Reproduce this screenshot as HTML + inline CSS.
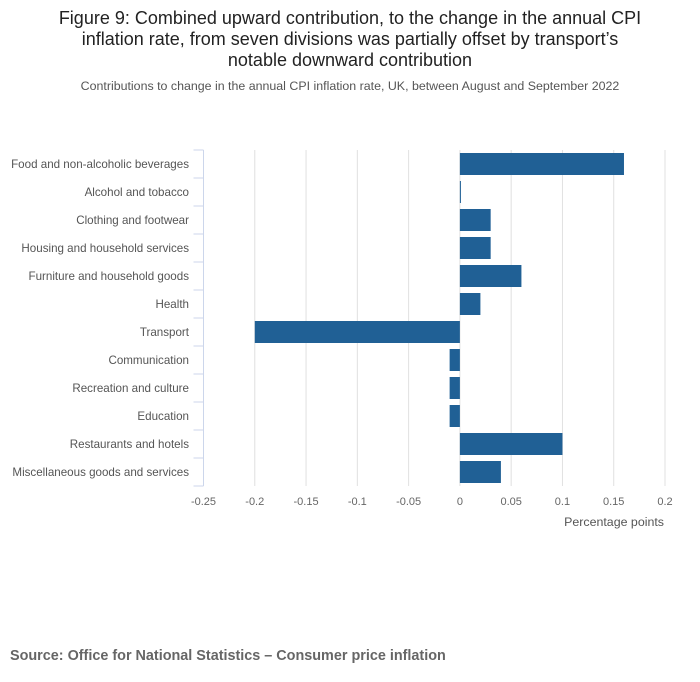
<!DOCTYPE html>
<html><head><meta charset="utf-8"><style>
body{margin:0;background:#fff;font-family:"Liberation Sans",sans-serif;}
#wrap{position:relative;width:700px;height:682px;overflow:hidden;}
</style></head><body>
<div id="wrap">
<svg id="chart" width="700" height="682" xmlns="http://www.w3.org/2000/svg">
<text x="350" y="24" text-anchor="middle" font-size="18" fill="#222">Figure 9: Combined upward contribution, to the change in the annual CPI</text>
<text x="350" y="45" text-anchor="middle" font-size="18" fill="#222">inflation rate, from seven divisions was partially offset by transport’s</text>
<text x="350" y="66" text-anchor="middle" font-size="18" fill="#222">notable downward contribution</text>
<text x="350" y="90" text-anchor="middle" font-size="12.4" fill="#555">Contributions to change in the annual CPI inflation rate, UK, between August and September 2022</text>
<text x="10" y="660" font-size="14.4" font-weight="bold" fill="#666">Source: Office for National Statistics – Consumer price inflation</text>
<g id="grid"></g><g id="bars"></g><g id="axes"></g>
</svg>
</div>
<script>
const categories=["Food and non-alcoholic beverages","Alcohol and tobacco","Clothing and footwear","Housing and household services","Furniture and household goods","Health","Transport","Communication","Recreation and culture","Education","Restaurants and hotels","Miscellaneous goods and services"];
const values=[0.16,0.001,0.03,0.03,0.06,0.02,-0.2,-0.01,-0.01,-0.01,0.1,0.04];
const ticks=[-0.25,-0.2,-0.15,-0.1,-0.05,0,0.05,0.1,0.15,0.2];
const tickLabels=["-0.25","-0.2","-0.15","-0.1","-0.05","0","0.05","0.1","0.15","0.2"];
const NS="http://www.w3.org/2000/svg";
const x0=203.5,x1=665,y0=150,y1=486,xmin=-0.25,xmax=0.2;
const xs=v=>x0+(v-xmin)/(xmax-xmin)*(x1-x0);
const band=(y1-y0)/categories.length;
const ys=i=>y0+i*band;
function mk(t,a,p){const e=document.createElementNS(NS,t);for(const k in a)e.setAttribute(k,a[k]);document.getElementById(p).appendChild(e);return e;}
ticks.forEach((t,i)=>{
 if(i>0){const g=mk('line',{x1:xs(t),x2:xs(t),y1:y0,y2:y1,stroke:'#e0e0e0','stroke-width':1},'grid');
 
 }
 const l=mk('text',{x:xs(t),y:505,'text-anchor':'middle','font-size':11,fill:'#666'},'axes');
 l.textContent=tickLabels[i];
 
 
});
const ax=mk('line',{x1:x0,x2:x0,y1:y0,y2:y1,stroke:'#ccd6eb','stroke-width':1},'axes');


for(let i=0;i<=categories.length;i++){
 const tk=mk('line',{x1:x0-10,x2:x0,y1:ys(i),y2:ys(i),stroke:'#ccd6eb','stroke-width':1},'axes');
 
 
}
categories.forEach((c,i)=>{
 const t=mk('text',{x:189,y:ys(i)+band/2+4,'text-anchor':'end','font-size':11.6,fill:'#555'},'axes');
 t.textContent=c;
 
 
 const v=values[i],a=xs(Math.min(0,v)),b=xs(Math.max(0,v));
 const r=mk('rect',{x:a,y:ys(i)+3,width:Math.max(1,b-a),height:band-6,fill:'#206095'},'bars');
 
 
});
const at=mk('text',{x:664,y:526,'text-anchor':'end','font-size':12.4,fill:'#555'},'axes');
at.textContent='Percentage points';


</script>
</body></html>
